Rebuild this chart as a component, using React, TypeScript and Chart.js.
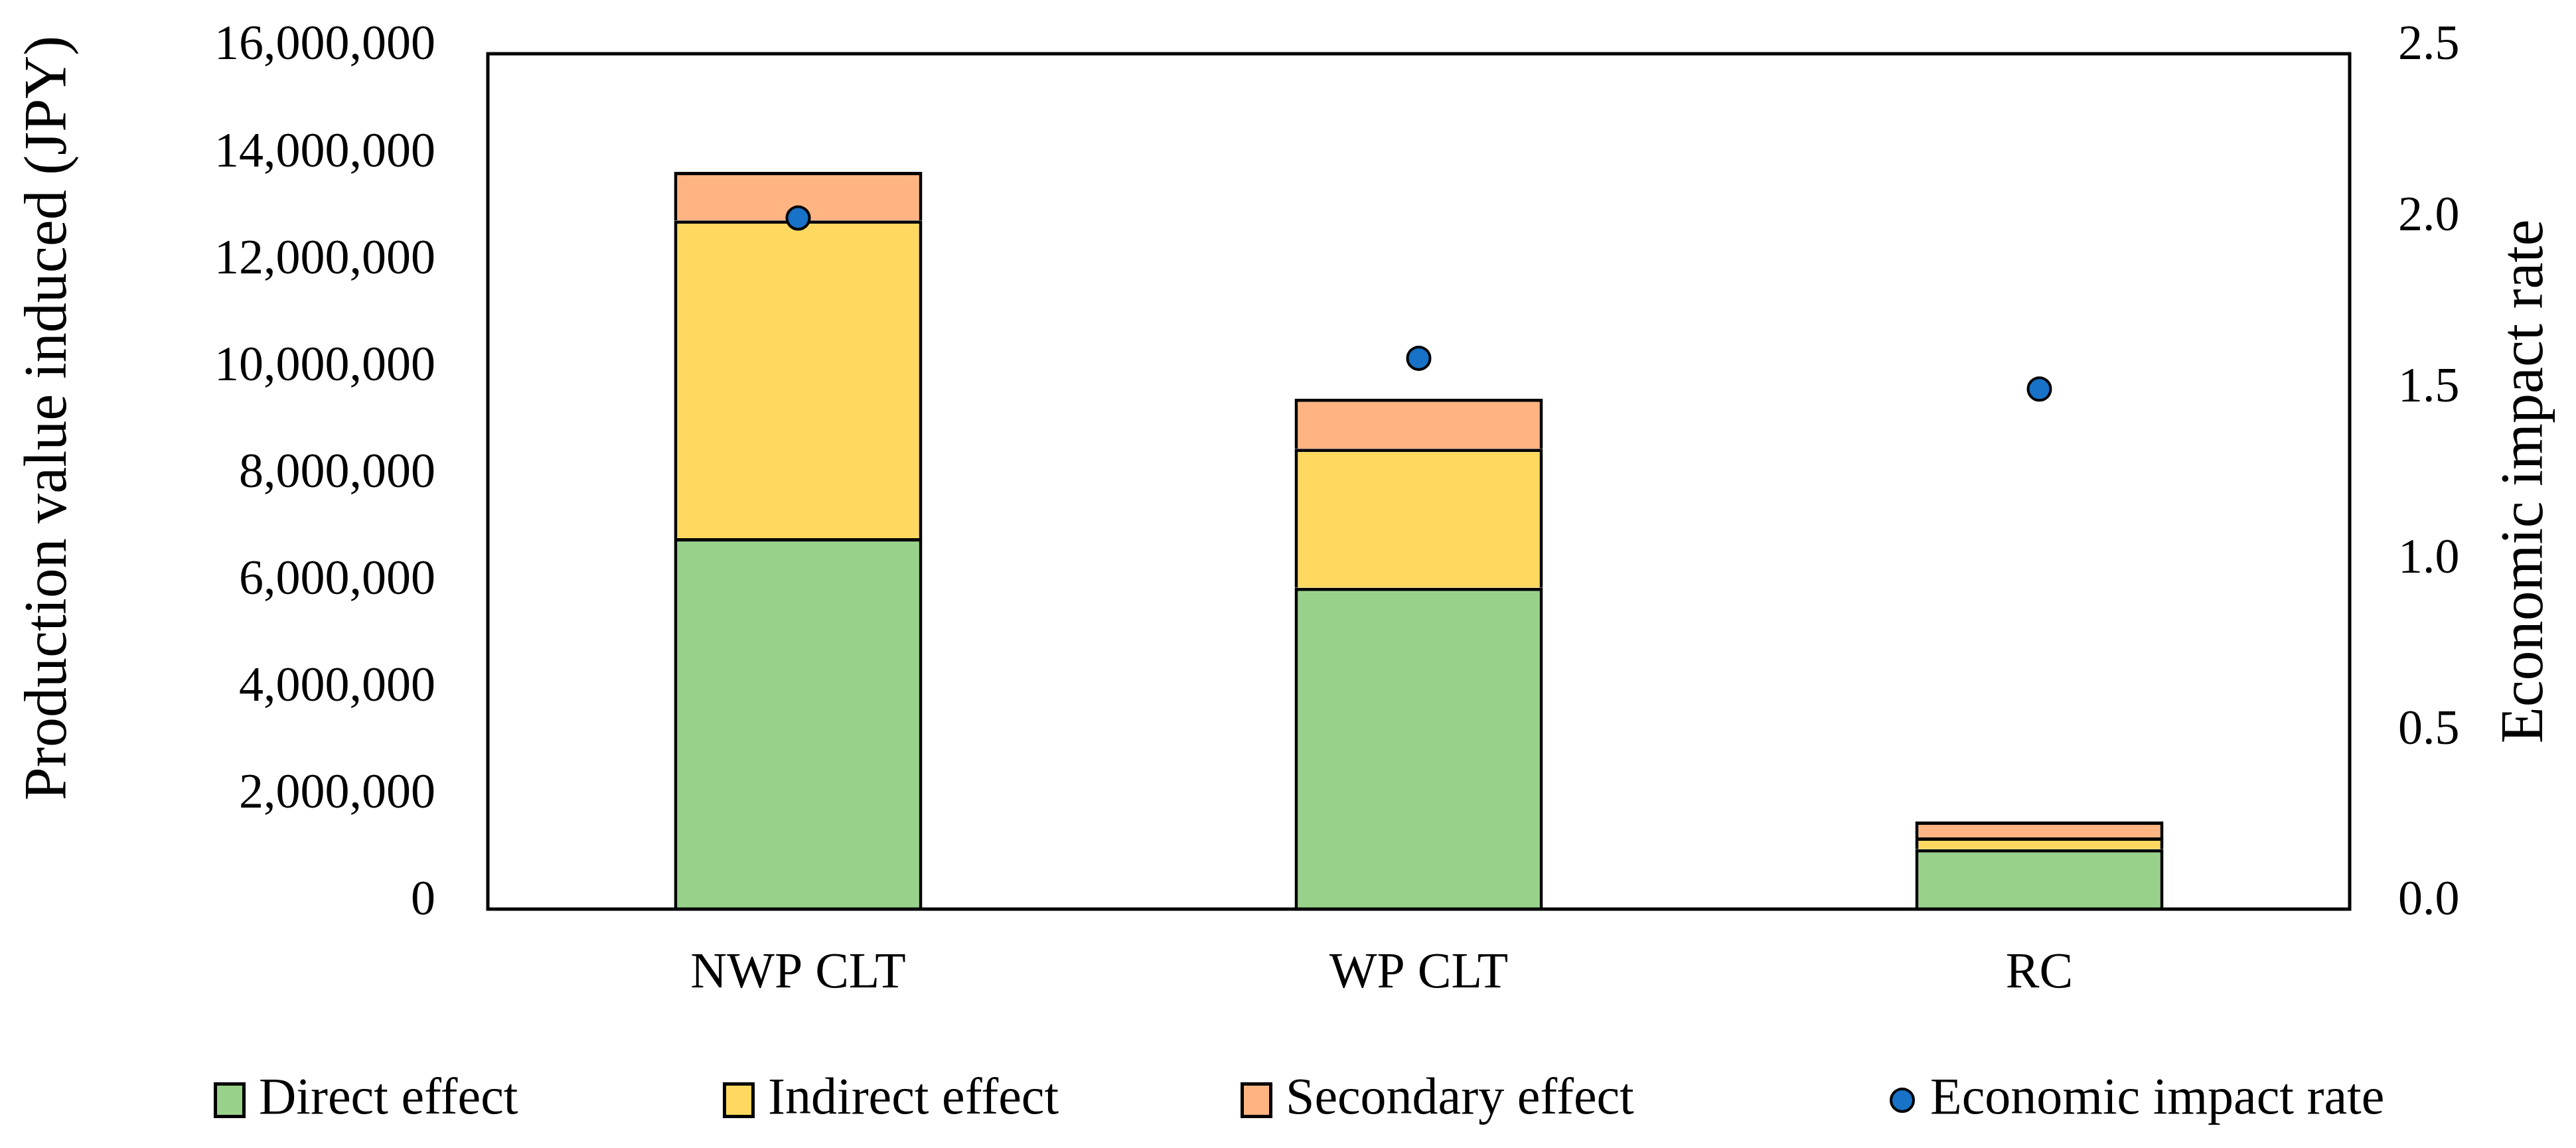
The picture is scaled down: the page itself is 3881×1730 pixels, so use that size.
import React, { useEffect, useRef } from 'react';
import { Chart, registerables } from 'chart.js';

Chart.register(...registerables);

// ---- data ----
const categories = ['NWP CLT', 'WP CLT', 'RC'];
const directEffect = [6940000, 6010000, 1120000];
const indirectEffect = [5940000, 2600000, 220000];
const secondaryEffect = [910000, 940000, 300000];
const economicImpactRate = [2.02, 1.61, 1.52];

const seriesLabels = ['Direct effect', 'Indirect effect', 'Secondary effect', 'Economic impact rate'];
const leftAxisTitle = 'Production value induced (JPY)';
const rightAxisTitle = 'Economic impact rate';

const W = 3881;
const H = 1730;
const FONT = '"Liberation Serif", "Times New Roman", serif';

const framePlugin = {
  id: 'frame',
  afterDatasetsDraw(chart: any) {
    const { ctx, chartArea } = chart;
    const { left, top, right, bottom } = chartArea;
    ctx.save();
    ctx.strokeStyle = '#000';
    ctx.lineWidth = 5;
    ctx.strokeRect(left, top, right - left, bottom - top);
    ctx.restore();
  },
};

const titlesPlugin = {
  id: 'axisTitles',
  afterDraw(chart: any) {
    const { ctx, chartArea } = chart;
    ctx.save();
    ctx.fillStyle = '#000';
    ctx.font = `90px ${FONT}`;
    ctx.textAlign = 'center';
    ctx.textBaseline = 'middle';
    ctx.save();
    ctx.translate(75, 630);
    ctx.rotate(-Math.PI / 2);
    ctx.fillText(leftAxisTitle, 0, 0);
    ctx.restore();
    ctx.save();
    ctx.translate(chart.width - 75, (chartArea.top + chartArea.bottom) / 2);
    ctx.rotate(-Math.PI / 2);
    ctx.fillText(rightAxisTitle, 0, 0);
    ctx.restore();
    ctx.restore();
  },
};

const legendPlugin = {
  id: 'customLegend',
  afterDraw(chart: any) {
    const { ctx } = chart;
    const starts = [322, 1089, 1869, 2846];
    const cy = 1658;
    ctx.save();
    ctx.font = `78px ${FONT}`;
    ctx.textAlign = 'left';
    ctx.textBaseline = 'middle';
    chart.data.datasets.forEach((ds: any, i: number) => {
      const x = starts[i];
      let textX;
      if (ds.type === 'line') {
        ctx.beginPath();
        ctx.arc(x + 20, cy, 17, 0, Math.PI * 2);
        ctx.fillStyle = ds.pointBackgroundColor;
        ctx.fill();
        ctx.lineWidth = 4;
        ctx.strokeStyle = '#000';
        ctx.stroke();
        textX = x + 62;
      } else {
        ctx.fillStyle = '#000';
        ctx.fillRect(x, cy - 27, 48, 54);
        ctx.fillStyle = ds.backgroundColor;
        ctx.fillRect(x + 5, cy - 22, 38, 44);
        textX = x + 68;
      }
      ctx.fillStyle = '#000';
      ctx.fillText(ds.label, textX, cy);
    });
    ctx.restore();
  },
};

export default function App() {
  const ref = useRef<HTMLCanvasElement | null>(null);

  useEffect(() => {
    document.body.style.margin = '0';
    document.body.style.overflow = 'hidden';
    const canvas = ref.current;
    if (!canvas) return;
    const barCommon = {
      borderColor: '#000000',
      borderWidth: 5,
      yAxisID: 'y',
      stack: 'effects',
      order: 1,
      barPercentage: 0.4,
      categoryPercentage: 1,
    };
    const chart = new Chart(canvas, {
      type: 'bar',
      data: {
        labels: categories,
        datasets: [
          { ...barCommon, label: seriesLabels[0], data: directEffect, backgroundColor: '#98D28A' },
          { ...barCommon, label: seriesLabels[1], data: indirectEffect, backgroundColor: '#FFD95F' },
          { ...barCommon, label: seriesLabels[2], data: secondaryEffect, backgroundColor: '#FFB482' },
          {
            type: 'line',
            label: seriesLabels[3],
            data: economicImpactRate,
            yAxisID: 'y1',
            showLine: false,
            order: 0,
            pointRadius: 17,
            pointHoverRadius: 17,
            pointBackgroundColor: '#1772C8',
            pointBorderColor: '#000000',
            pointBorderWidth: 4,
            backgroundColor: '#1772C8',
            borderColor: '#000000',
          } as any,
        ],
      },
      options: {
        animation: false,
        responsive: false,
        devicePixelRatio: 1,
        layout: { padding: { top: 81, left: 0, right: 0, bottom: 0 } },
        plugins: {
          legend: { display: false },
          tooltip: { enabled: false },
        },
        scales: {
          x: {
            stacked: true,
            grid: { display: false, drawTicks: false },
            border: { display: false },
            ticks: { color: '#000', font: { family: FONT, size: 76 }, padding: 52 },
            afterFit(scale: any) {
              scale.height = 360;
            },
          },
          y: {
            stacked: true,
            position: 'left',
            min: 0,
            max: 16000000,
            grid: { display: false, drawTicks: false },
            border: { display: false },
            ticks: {
              stepSize: 2000000,
              color: '#000',
              font: { family: FONT, size: 74 },
              padding: 79,
              labelOffset: -11,
              callback: (v: any) => Number(v).toLocaleString('en-US'),
            },
            afterFit(scale: any) {
              scale.width = 735;
              scale.paddingTop = 0;
              scale.paddingBottom = 0;
            },
          },
          y1: {
            position: 'right',
            min: 0,
            max: 2.5,
            grid: { display: false, drawTicks: false },
            border: { display: false },
            ticks: {
              stepSize: 0.5,
              color: '#000',
              font: { family: FONT, size: 74 },
              padding: 73,
              labelOffset: -11,
              callback: (v: any) => Number(v).toFixed(1),
            },
            afterFit(scale: any) {
              scale.width = 341;
              scale.paddingTop = 0;
              scale.paddingBottom = 0;
            },
          },
        },
      } as any,
      plugins: [framePlugin, titlesPlugin, legendPlugin],
    });
    return () => chart.destroy();
  }, []);

  return (
    <div style={{ width: W, height: H, background: '#fff' }}>
      <canvas ref={ref} width={W} height={H} style={{ width: W, height: H, display: 'block' }} />
    </div>
  );
}
